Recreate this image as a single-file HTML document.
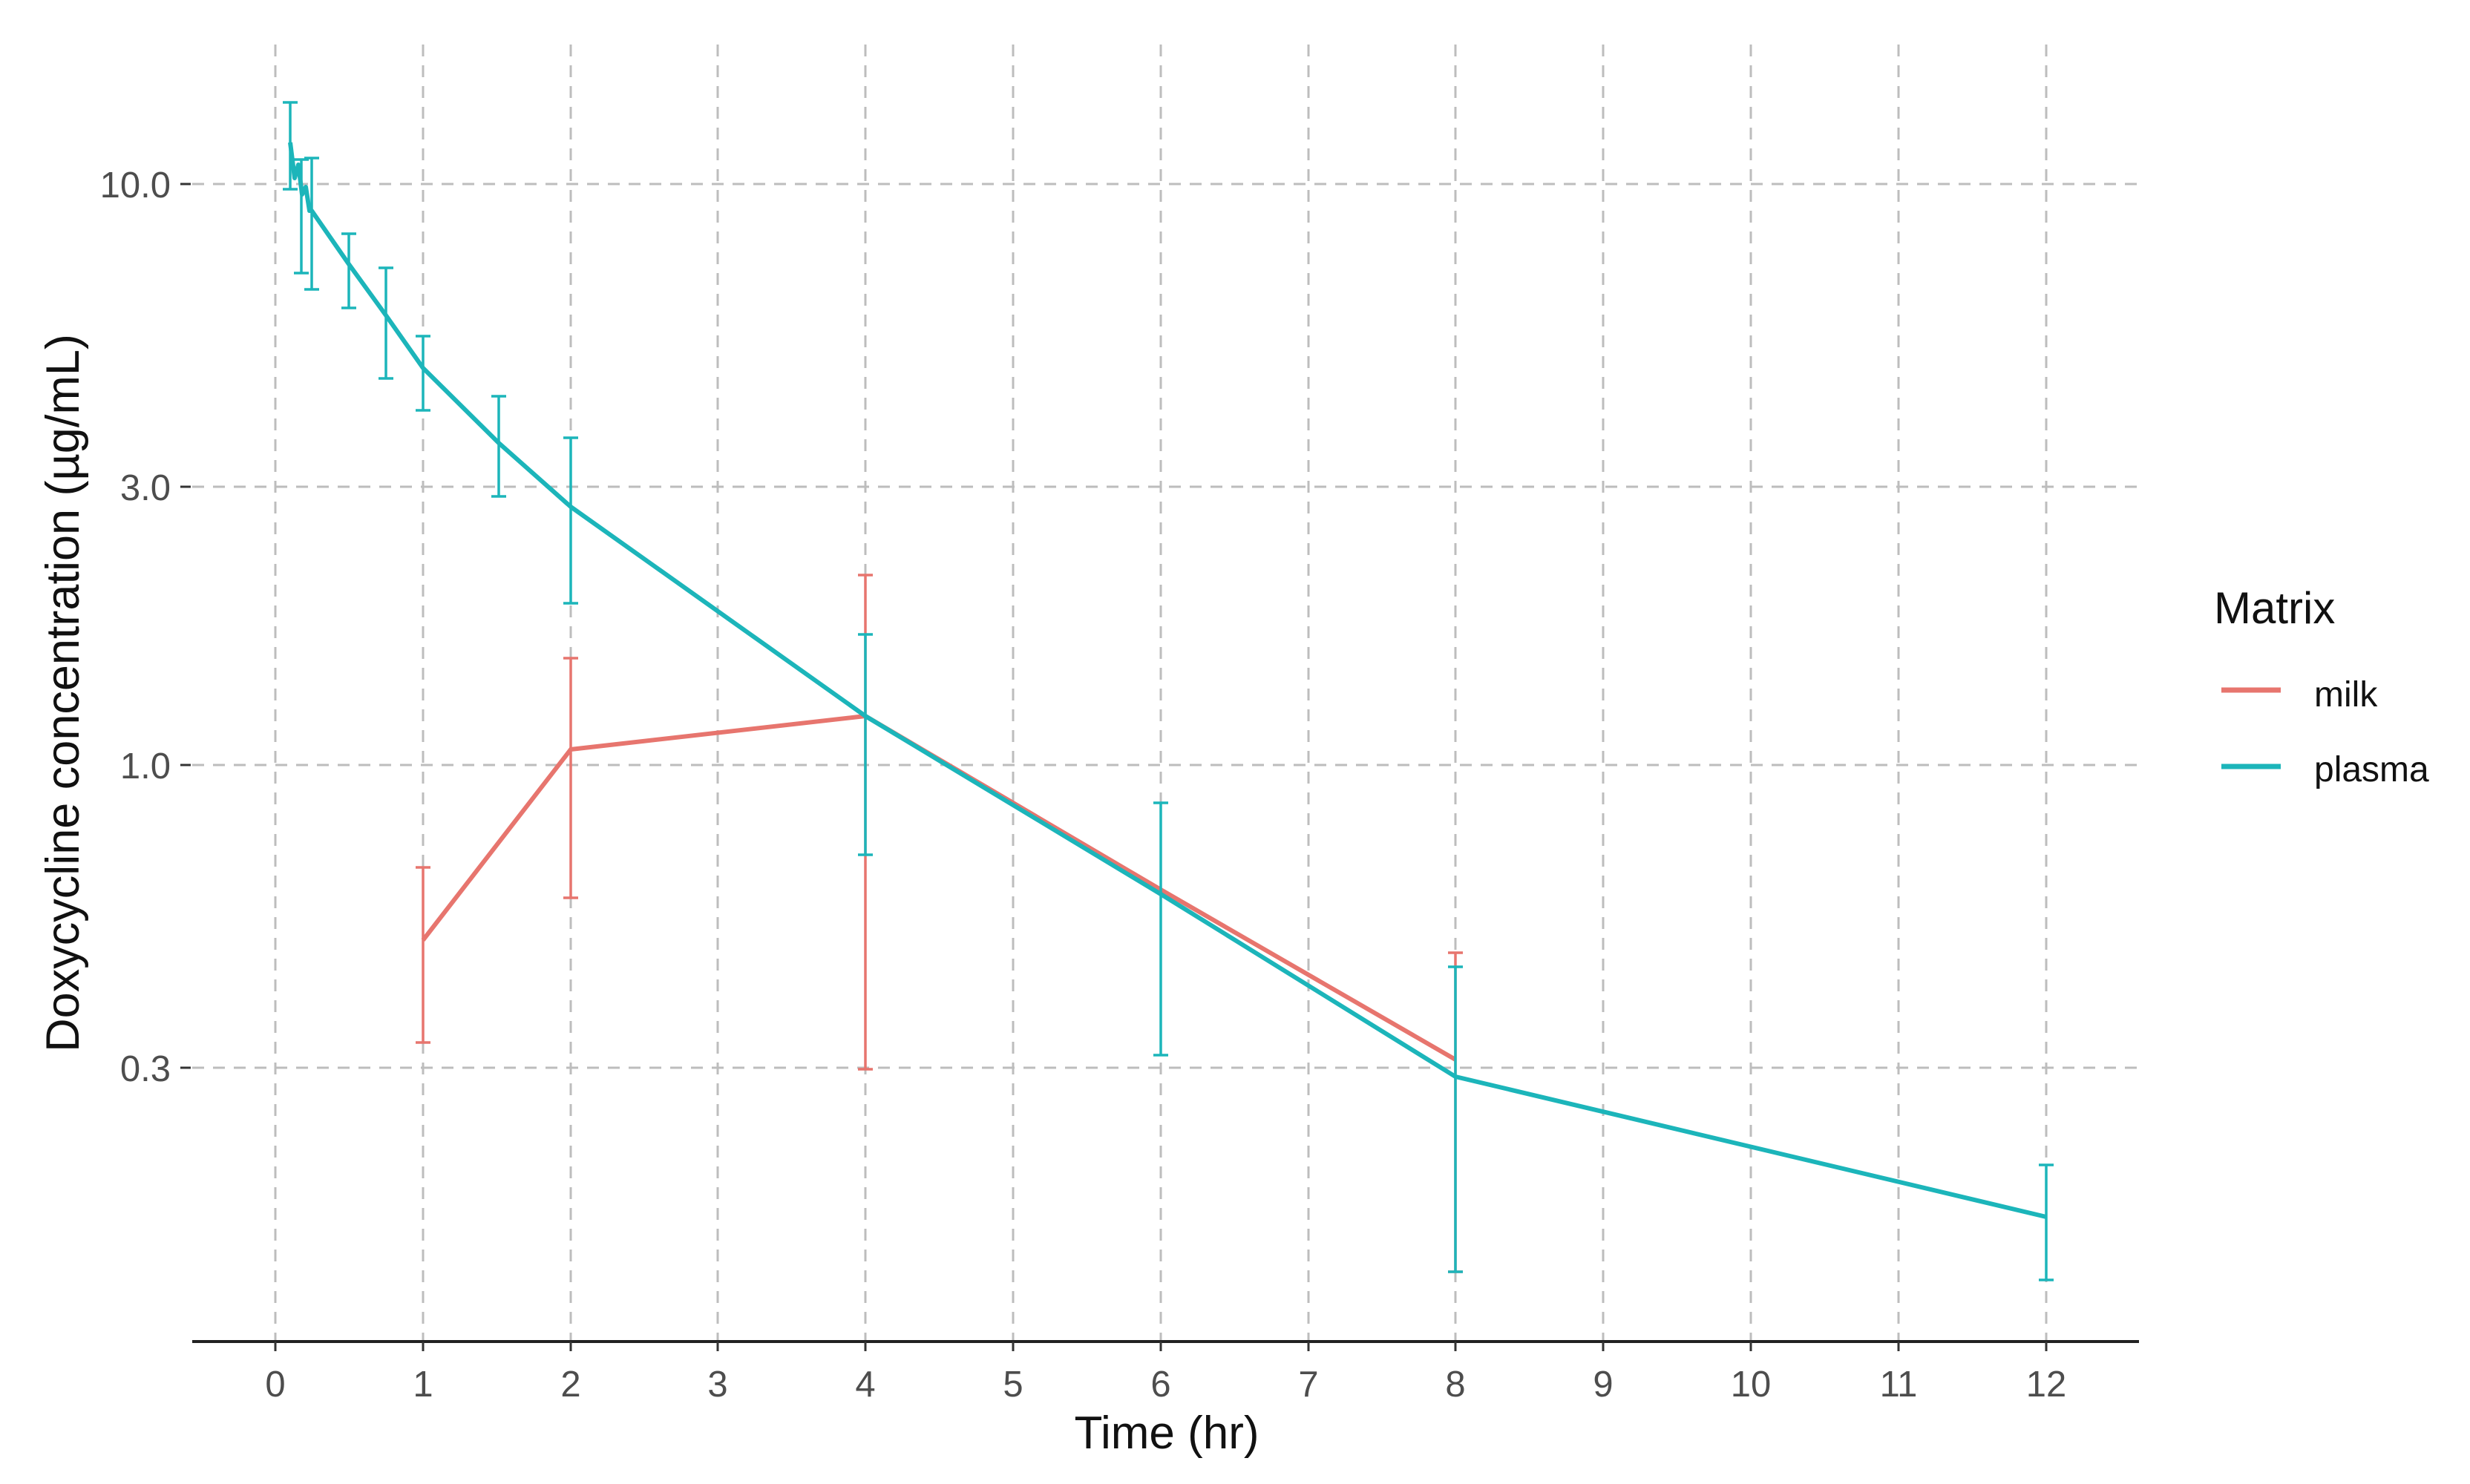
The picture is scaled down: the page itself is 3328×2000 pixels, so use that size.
<!DOCTYPE html>
<html><head><meta charset="utf-8"><style>body{margin:0;background:#fff}svg{display:block}</style></head>
<body>
<svg width="3328" height="2000" viewBox="0 0 3328 2000" xmlns="http://www.w3.org/2000/svg" font-family="Liberation Sans, Arial, sans-serif">
<rect width="3328" height="2000" fill="#fff"/>
<g stroke="#bdbdbd" stroke-width="3" stroke-dasharray="16,12">
<line x1="259" y1="248" x2="2882" y2="248"/>
<line x1="259" y1="656" x2="2882" y2="656"/>
<line x1="259" y1="1031" x2="2882" y2="1031"/>
<line x1="259" y1="1439" x2="2882" y2="1439"/>
<line x1="371" y1="60" x2="371" y2="1808"/>
<line x1="570" y1="60" x2="570" y2="1808"/>
<line x1="769" y1="60" x2="769" y2="1808"/>
<line x1="967" y1="60" x2="967" y2="1808"/>
<line x1="1166" y1="60" x2="1166" y2="1808"/>
<line x1="1365" y1="60" x2="1365" y2="1808"/>
<line x1="1564" y1="60" x2="1564" y2="1808"/>
<line x1="1763" y1="60" x2="1763" y2="1808"/>
<line x1="1961" y1="60" x2="1961" y2="1808"/>
<line x1="2160" y1="60" x2="2160" y2="1808"/>
<line x1="2359" y1="60" x2="2359" y2="1808"/>
<line x1="2558" y1="60" x2="2558" y2="1808"/>
<line x1="2757" y1="60" x2="2757" y2="1808"/>
</g>
<line x1="259" y1="1808" x2="2882" y2="1808" stroke="#222" stroke-width="4"/>
<g stroke="#333" stroke-width="3">
<line x1="243" y1="248" x2="257" y2="248"/><line x1="243" y1="656" x2="257" y2="656"/>
<line x1="243" y1="1031" x2="257" y2="1031"/><line x1="243" y1="1439" x2="257" y2="1439"/>
<line x1="371" y1="1808" x2="371" y2="1821"/><line x1="570" y1="1808" x2="570" y2="1821"/>
<line x1="769" y1="1808" x2="769" y2="1821"/><line x1="967" y1="1808" x2="967" y2="1821"/>
<line x1="1166" y1="1808" x2="1166" y2="1821"/><line x1="1365" y1="1808" x2="1365" y2="1821"/>
<line x1="1564" y1="1808" x2="1564" y2="1821"/><line x1="1763" y1="1808" x2="1763" y2="1821"/>
<line x1="1961" y1="1808" x2="1961" y2="1821"/><line x1="2160" y1="1808" x2="2160" y2="1821"/>
<line x1="2359" y1="1808" x2="2359" y2="1821"/><line x1="2558" y1="1808" x2="2558" y2="1821"/>
<line x1="2757" y1="1808" x2="2757" y2="1821"/>
</g>
<g fill="#4d4d4d" font-size="49" text-anchor="end">
<text x="230" y="266">10.0</text><text x="230" y="674">3.0</text>
<text x="230" y="1049">1.0</text><text x="230" y="1457">0.3</text>
</g>
<g fill="#4d4d4d" font-size="49" text-anchor="middle">
<text x="371" y="1882">0</text><text x="570" y="1882">1</text><text x="769" y="1882">2</text>
<text x="967" y="1882">3</text><text x="1166" y="1882">4</text><text x="1365" y="1882">5</text>
<text x="1564" y="1882">6</text><text x="1763" y="1882">7</text><text x="1961" y="1882">8</text>
<text x="2160" y="1882">9</text><text x="2359" y="1882">10</text><text x="2558" y="1882">11</text>
<text x="2757" y="1882">12</text>
</g>
<text x="1572" y="1952" font-size="62" text-anchor="middle" fill="#111">Time (hr)</text>
<text transform="translate(106,934) rotate(-90)" font-size="63" text-anchor="middle" fill="#111">Doxycycline concentration (µg/mL)</text>
<!-- milk -->
<g stroke="#E7756E" fill="none">
<g stroke-width="3.5">
<path d="M570 1169V1405M560 1169H580M560 1405H580"/>
<path d="M769 887V1210M759 887H779M759 1210H779"/>
<path d="M1166 775V1441M1156 775H1176M1156 1441H1176"/>
<path d="M1961 1284V1714M1951 1284H1971M1951 1714H1971"/>
</g>
<polyline stroke-width="6" points="570,1267 769,1010 1166,965 1564,1199 1961,1428"/>
</g>
<!-- plasma -->
<g stroke="#1CB5BA" fill="none">
<g stroke-width="3.5">
<path d="M391 138V255M381 138H401M381 255H401"/>
<path d="M406 215V368M396 215H416M396 368H416"/>
<path d="M420 213V390M410 213H430M410 390H430"/>
<path d="M470 315V415M460 315H480M460 415H480"/>
<path d="M520 361V510M510 361H530M510 510H530"/>
<path d="M570 453V553M560 453H580M560 553H580"/>
<path d="M672 534V669M662 534H682M662 669H682"/>
<path d="M769 590V813M759 590H779M759 813H779"/>
<path d="M1166 855V1152M1156 855H1176M1156 1152H1176"/>
<path d="M1564 1082V1422M1554 1082H1574M1554 1422H1574"/>
<path d="M1961 1303V1714M1951 1303H1971M1951 1714H1971"/>
<path d="M2757 1570V1725M2747 1570H2767M2747 1725H2767"/>
</g>
<polyline stroke-width="6" stroke-linejoin="round" points="391,192 397,240 402,222 407,262 412,252 417,284 420,284 470,356 520,425 570,496 672,597 769,683 1166,965 1564,1205 1961,1451 2757,1640"/>
</g>
<!-- legend -->
<text x="2983" y="840" font-size="60" fill="#111">Matrix</text>
<line x1="2993" y1="930" x2="3073" y2="930" stroke="#E7756E" stroke-width="7"/>
<line x1="2993" y1="1033" x2="3073" y2="1033" stroke="#1CB5BA" stroke-width="7"/>
<text x="3118" y="952" font-size="48" fill="#111">milk</text>
<text x="3118" y="1053" font-size="48" fill="#111">plasma</text>
</svg>
</body></html>
